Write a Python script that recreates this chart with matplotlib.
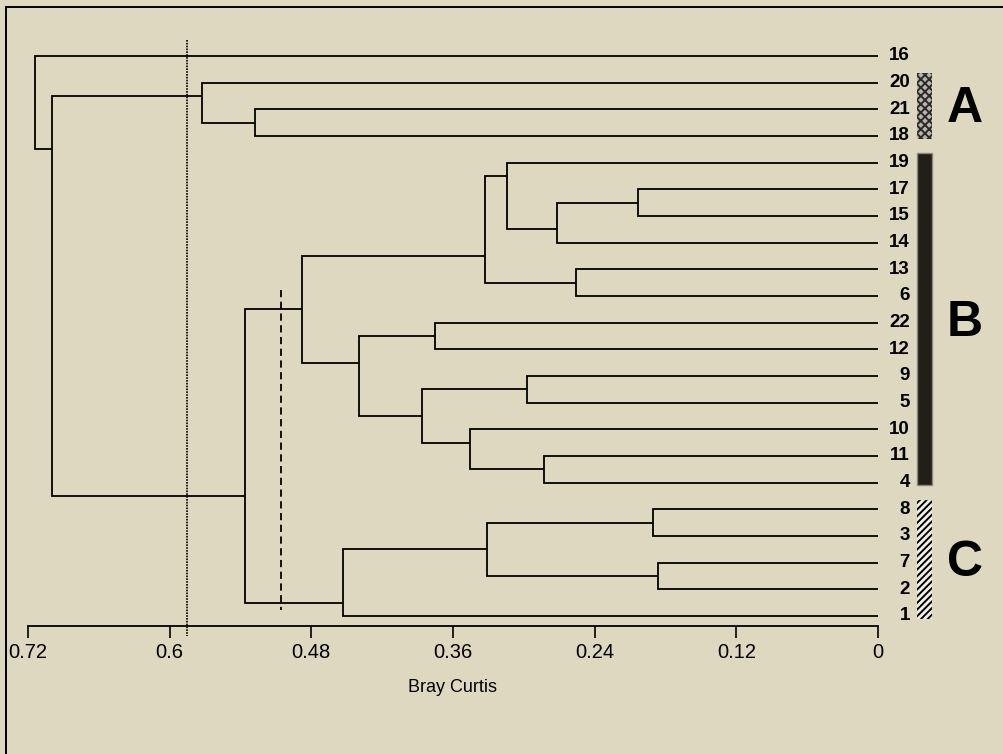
import matplotlib.pyplot as plt
from matplotlib.patches import Rectangle
from matplotlib.lines import Line2D

plt.rcParams['font.family'] = ['Liberation Sans', 'DejaVu Sans']
plt.rcParams['hatch.linewidth'] = 1.4

# leaf order, top to bottom
leaves = ["16", "20", "21", "18", "19", "17", "15", "14", "13", "6", "22",
          "12", "9", "5", "10", "11", "4", "8", "3", "7", "2", "1"]

# merges (top child, bottom child, Bray Curtis level)
node_names = ["n1", "n2", "n3", "n4", "n5", "n6", "n7", "n8", "n9", "n10", "n11",
              "n12", "n13", "n14", "n15", "n16", "n17", "n18", "n19", "n20", "n21"]
node_left = ["17", "n1", "19", "13", "n3", "22", "9", "11", "10", "n7", "n6",
             "n5", "8", "7", "n13", "n15", "n12", "21", "20", "n19", "16"]
node_right = ["15", "14", "n2", "6", "n4", "12", "5", "4", "n8", "n9", "n10",
              "n11", "3", "2", "n14", "1", "n16", "18", "n18", "n17", "n20"]
node_height = [0.203, 0.272, 0.314, 0.256, 0.333, 0.375, 0.297, 0.283, 0.346, 0.386, 0.440,
               0.488, 0.191, 0.186, 0.331, 0.453, 0.536, 0.528, 0.573, 0.700, 0.714]

cut_dotted = 0.585
cut_dashed = 0.506

group_names = ["A", "B", "C"]
group_first = ["20", "19", "8"]
group_last = ["18", "4", "1"]

xticks = [0.72, 0.6, 0.48, 0.36, 0.24, 0.12, 0]
xtick_labels = ["0.72", "0.6", "0.48", "0.36", "0.24", "0.12", "0"]

bg = '#ddd8bf'
W, H = 1004, 754
fig = plt.figure(figsize=(W / 100, H / 100), dpi=100, facecolor=bg)
ax = fig.add_axes([28 / W, 1 - 626 / H, 850 / W, (626 - 29.3) / H])
ax.set_facecolor('none')
ax.set_xlim(0.72, 0)
ax.set_ylim(21.375, -1.0)

ypos, xpos, span = {}, {}, {}
for i, lf in enumerate(leaves):
    ypos[lf] = i
    xpos[lf] = 0
    span[lf] = (i, i)

for name, l, r, h in zip(node_names, node_left, node_right, node_height):
    ax.plot([xpos[l], h, h, xpos[r]], [ypos[l], ypos[l], ypos[r], ypos[r]],
            color='black', lw=1.3, solid_joinstyle='miter', solid_capstyle='butt')
    span[name] = (span[l][0], span[r][1])
    # joint sits at the split between the two children
    ypos[name] = (span[l][1] + span[r][0]) / 2
    xpos[name] = h

for i, lf in enumerate(leaves):
    ax.annotate(lf, xy=(0, i), xytext=(23, 0), textcoords='offset points',
                ha='right', va='center', fontsize=13.5, fontweight='bold')

# cut levels
ax.plot([cut_dotted, cut_dotted], [-0.6, 21.75], color='black', lw=1.2,
        ls=(0, (1, 0.7)), clip_on=False)
ax.plot([cut_dashed, cut_dashed], [8.77, 20.77], color='black', lw=1.3,
        ls=(0, (4, 2.5)), clip_on=False)

# group bars
bar_styles = [
    dict(facecolor='#b8b4a8', edgecolor='#2a2a2a', hatch='xxxx', lw=0),
    dict(facecolor='#221e18', edgecolor='#8a867a', lw=1),
    dict(facecolor='#f2f0e8', edgecolor='black', hatch='/////', lw=0),
]
for g, a, b, st in zip(group_names, group_first, group_last, bar_styles):
    y0 = leaves.index(a) - 0.35
    y1 = leaves.index(b) + 0.1
    ax.add_patch(Rectangle((-0.0457, y0), 0.0127, y1 - y0, clip_on=False, **st))
    ax.text(-0.0737, (leaves.index(a) + leaves.index(b)) / 2, g, ha='center', va='center',
            fontsize=36, fontweight='bold', clip_on=False)

for s in ['left', 'top', 'right']:
    ax.spines[s].set_visible(False)
ax.spines['bottom'].set_linewidth(1.3)
ax.set_yticks([])
ax.set_xticks(xticks)
ax.set_xticklabels(xtick_labels)
ax.tick_params(axis='x', length=8.5, width=1.2, labelsize=14.5, pad=4)
ax.set_xlabel('Bray Curtis', fontsize=13, labelpad=12)

# page frame
fig.add_artist(Line2D([6 / W, 6 / W], [0, 1 - 7 / H], color='black', lw=1.4,
                      transform=fig.transFigure))
fig.add_artist(Line2D([6 / W, 1], [1 - 7 / H, 1 - 7 / H], color='black', lw=1.4,
                      transform=fig.transFigure))

fig.savefig('out.png', dpi=100, facecolor=bg)
